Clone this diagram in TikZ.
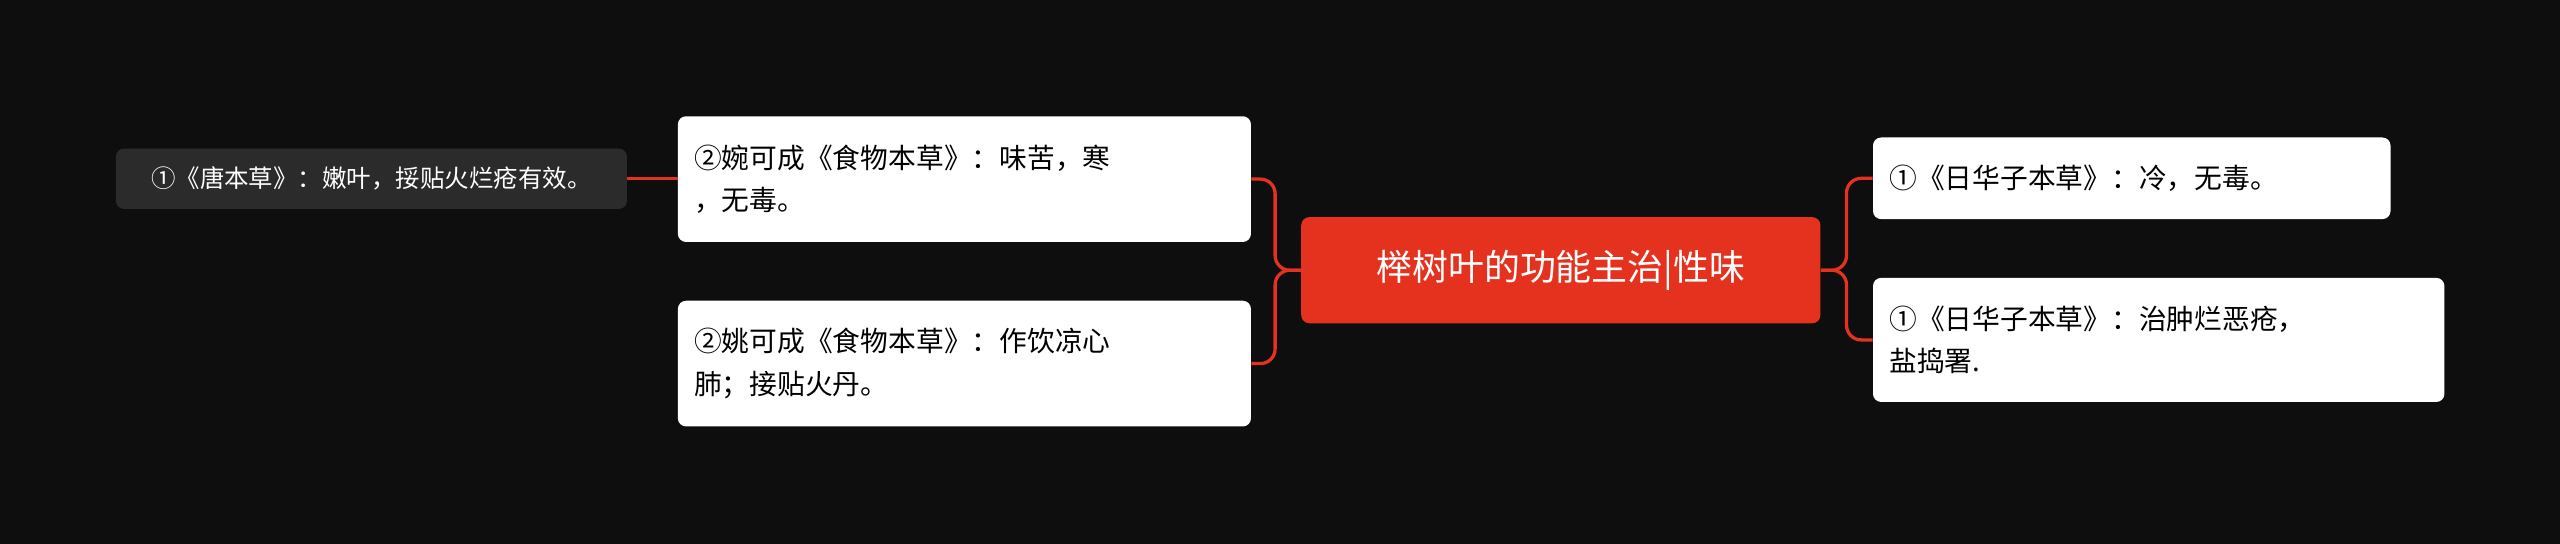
\documentclass[tikz,border=0pt]{standalone}
\usepackage{fontspec}
\setmainfont{Noto Sans CJK SC}
\definecolor{bg}{HTML}{0E0E0E}
\definecolor{accent}{HTML}{E5321E}
\definecolor{dark}{HTML}{2B2B2B}
\tikzset{
 leaf/.style={fill=white,rounded corners=5pt,align=left,anchor=north west,inner xsep=10pt,inner ysep=0pt,font=\fontsize{17}{26}\selectfont,text=black},
 conn/.style={draw=accent,line width=2pt,rounded corners=9pt}
}
\begin{document}
\begin{tikzpicture}[x=1pt,y=-1pt]
\fill[bg] (0,0) rectangle (1568,333);
\useasboundingbox (0,0) rectangle (1568,333);
\node[fill=accent,rounded corners=5pt,text=white,font=\fontsize{22}{26}\selectfont,minimum width=318pt,minimum height=65pt,inner sep=0pt] (c) at (956,165.5) {榉树叶的功能主治|性味};
\node[leaf,minimum width=351pt,minimum height=77pt,text width=331pt] (lt) at (415,71) {②婉可成《食物本草》：味苦，寒\\，无毒。};
\node[leaf,minimum width=351pt,minimum height=77pt,text width=331pt] (lb) at (415,184) {②姚可成《食物本草》：作饮凉心\\肺；接贴火丹。};
\node[fill=dark,rounded corners=5pt,text=white,font=\fontsize{15}{18}\selectfont,minimum width=313pt,minimum height=37pt,inner sep=0pt] (ll) at (227.5,109.5) {①《唐本草》：嫩叶，挼贴火烂疮有效。};
\node[leaf,minimum width=317pt,minimum height=50pt,text width=297pt] (rt) at (1147,84) {①《日华子本草》：冷，无毒。};
\node[leaf,minimum width=350pt,minimum height=76pt,text width=330pt] (rb) at (1147,170) {①《日华子本草》：治肿烂恶疮，\\盐捣署.};
\draw[conn] (c.west) -- (781,165.5) |- (lt.east);
\draw[conn] (c.west) -- (781,165.5) |- (lb.east);
\draw[conn] (c.east) -- (1131,165.5) |- (rt.west);
\draw[conn] (c.east) -- (1131,165.5) |- (rb.west);
\draw[conn] (ll.east) -- (lt.west |- ll.east);
\end{tikzpicture}
\end{document}
